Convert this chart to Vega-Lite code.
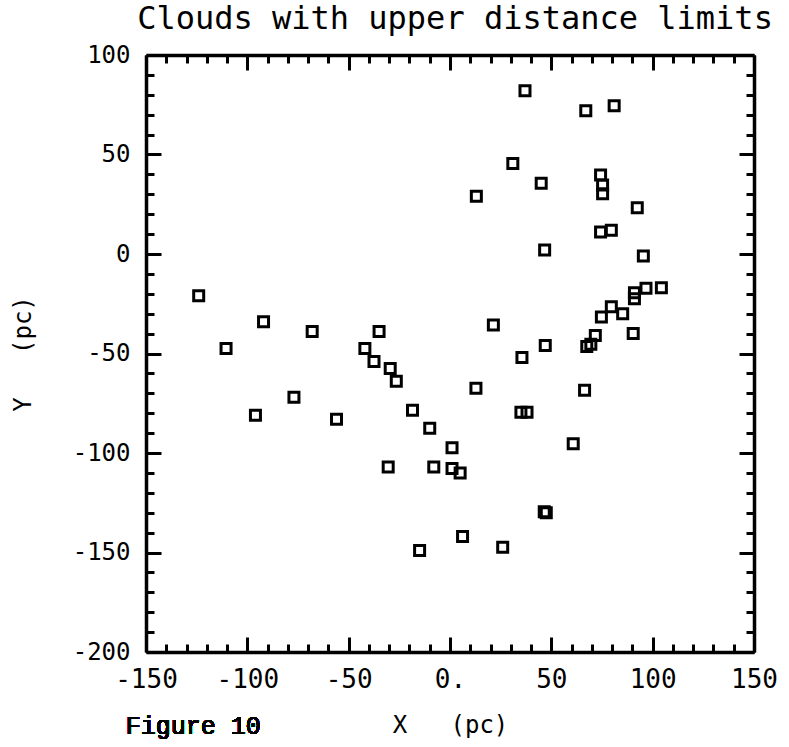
{
  "$schema": "https://vega.github.io/schema/vega-lite/v6.json",
  "width": 608,
  "height": 597,
  "autosize": {"type": "none"},
  "padding": {"left": 146, "top": 55, "right": 35, "bottom": 95},
  "background": "white",
  "title": {
    "text": "Clouds with upper distance limits",
    "font": "DejaVu Sans Mono",
    "fontSize": 32,
    "fontWeight": "normal",
    "color": "black",
    "anchor": "middle",
    "baseline": "bottom",
    "offset": 6,
    "dy": 31,
    "dx": 5
  },
  "data": {
    "values": [
      {"x": -124, "y": -21}, {"x": -92, "y": -34}, {"x": -68, "y": -39}, {"x": -35, "y": -39},
      {"x": -110.5, "y": -47.5}, {"x": -42, "y": -47.5}, {"x": -37.5, "y": -54}, {"x": -29.5, "y": -57.5},
      {"x": -26.5, "y": -64}, {"x": -77, "y": -72}, {"x": -96, "y": -81}, {"x": -56, "y": -83},
      {"x": -18.5, "y": -78.5}, {"x": -10, "y": -87.5}, {"x": -30.5, "y": -107}, {"x": -8, "y": -107},
      {"x": 1, "y": -97.3}, {"x": 1, "y": -107.8}, {"x": 5, "y": -110}, {"x": -15, "y": -149},
      {"x": 37, "y": 82}, {"x": 67, "y": 72}, {"x": 81, "y": 74.5}, {"x": 31, "y": 45.5},
      {"x": 45, "y": 35.5}, {"x": 13, "y": 29}, {"x": 74.3, "y": 39.7}, {"x": 75.3, "y": 34.7},
      {"x": 75.3, "y": 30.3}, {"x": 92.4, "y": 23.3}, {"x": 74.3, "y": 11.1}, {"x": 79.6, "y": 11.9},
      {"x": 46.7, "y": 2}, {"x": 95.4, "y": -1}, {"x": 96.7, "y": -17.2}, {"x": 104.3, "y": -17},
      {"x": 91, "y": -19.5}, {"x": 91, "y": -22.5}, {"x": 79.6, "y": -26.5}, {"x": 85.2, "y": -30},
      {"x": 74.7, "y": -31.7}, {"x": 21.4, "y": -35.7}, {"x": 47, "y": -46}, {"x": 71.7, "y": -41},
      {"x": 69.5, "y": -45.3}, {"x": 67.5, "y": -46.5}, {"x": 90.4, "y": -40}, {"x": 35.5, "y": -52},
      {"x": 12.8, "y": -67.5}, {"x": 66.4, "y": -68.5}, {"x": 35, "y": -79.5}, {"x": 38, "y": -79.5},
      {"x": 60.8, "y": -95.3}, {"x": 46.5, "y": -129.5}, {"x": 47.5, "y": -130}, {"x": 6.2, "y": -142},
      {"x": 26, "y": -147.4}
    ]
  },
  "resolve": {"axis": {"x": "independent", "y": "independent"}},
  "layer": [
    {
      "mark": {"type": "point", "shape": "square", "filled": false, "color": "black", "size": 100, "strokeWidth": 3, "opacity": 1},
      "encoding": {
        "x": {
          "field": "x", "type": "quantitative",
          "scale": {"domain": [-150, 150], "nice": false, "zero": false},
          "axis": {
            "orient": "bottom", "values": [-150, -100, -50, 0, 50, 100, 150],
            "tickSize": -15, "tickWidth": 3, "tickColor": "black",
            "domain": true, "domainWidth": 3.5, "domainColor": "black",
            "labelPadding": 29, "labelFont": "DejaVu Sans Mono", "labelFontSize": 26, "labelColor": "black",
            "labelExpr": "datum.value == 0 ? '0.' : '' + datum.value", "labelFlush": false, "labelOverlap": false, "labelDx": 3,
            "title": "X\u00a0\u00a0\u00a0(pc)", "titleFont": "DejaVu Sans Mono", "titleFontSize": 24, "titleFontWeight": "normal", "titleColor": "black", "titlePadding": 21,
            "grid": false
          }
        },
        "y": {
          "field": "y", "type": "quantitative",
          "scale": {"domain": [-200, 100], "nice": false, "zero": false},
          "axis": {
            "orient": "left", "values": [-200, -150, -100, -50, 0, 50, 100],
            "tickSize": -15, "tickWidth": 3, "tickColor": "black",
            "domain": true, "domainWidth": 3.5, "domainColor": "black",
            "labelPadding": 31, "labelFont": "DejaVu Sans Mono", "labelFontSize": 24, "labelColor": "black",
            "labelExpr": "'' + datum.value", "labelFlush": false, "labelOverlap": false,
            "title": "Y\u00a0\u00a0\u00a0(pc)", "titleFont": "DejaVu Sans Mono", "titleFontSize": 24, "titleFontWeight": "normal", "titleColor": "black", "titlePadding": 37,
            "grid": false
          }
        }
      }
    },
    {
      "mark": {"type": "point", "opacity": 0},
      "encoding": {
        "x": {
          "field": "x", "type": "quantitative",
          "scale": {"domain": [-150, 150], "nice": false, "zero": false},
          "axis": {
            "orient": "bottom", "values": [-140, -130, -120, -110, -90, -80, -70, -60, -40, -30, -20, -10, 10, 20, 30, 40, 60, 70, 80, 90, 110, 120, 130, 140],
            "tickSize": -8, "tickWidth": 3, "tickColor": "black", "domain": false, "labels": false, "title": null, "grid": false
          }
        },
        "y": {
          "field": "y", "type": "quantitative",
          "scale": {"domain": [-200, 100], "nice": false, "zero": false},
          "axis": {
            "orient": "left", "values": [-190, -180, -170, -160, -140, -130, -120, -110, -90, -80, -70, -60, -40, -30, -20, -10, 10, 20, 30, 40, 60, 70, 80, 90],
            "tickSize": -8, "tickWidth": 3, "tickColor": "black", "domain": false, "labels": false, "title": null, "grid": false
          }
        }
      }
    },
    {
      "mark": {"type": "point", "opacity": 0},
      "encoding": {
        "x": {
          "field": "x", "type": "quantitative",
          "scale": {"domain": [-150, 150], "nice": false, "zero": false},
          "axis": {
            "orient": "top", "values": [-150, -100, -50, 0, 50, 100, 150],
            "tickSize": -15, "tickWidth": 3, "tickColor": "black",
            "domain": true, "domainWidth": 3.5, "domainColor": "black", "labels": false, "title": null, "grid": false
          }
        },
        "y": {
          "field": "y", "type": "quantitative",
          "scale": {"domain": [-200, 100], "nice": false, "zero": false},
          "axis": {
            "orient": "right", "values": [-200, -150, -100, -50, 0, 50, 100],
            "tickSize": -15, "tickWidth": 3, "tickColor": "black",
            "domain": true, "domainWidth": 3.5, "domainColor": "black", "labels": false, "title": null, "grid": false
          }
        }
      }
    },
    {
      "mark": {"type": "point", "opacity": 0},
      "encoding": {
        "x": {
          "field": "x", "type": "quantitative",
          "scale": {"domain": [-150, 150], "nice": false, "zero": false},
          "axis": {
            "orient": "top", "values": [-140, -130, -120, -110, -90, -80, -70, -60, -40, -30, -20, -10, 10, 20, 30, 40, 60, 70, 80, 90, 110, 120, 130, 140],
            "tickSize": -8, "tickWidth": 3, "tickColor": "black", "domain": false, "labels": false, "title": null, "grid": false
          }
        },
        "y": {
          "field": "y", "type": "quantitative",
          "scale": {"domain": [-200, 100], "nice": false, "zero": false},
          "axis": {
            "orient": "right", "values": [-190, -180, -170, -160, -140, -130, -120, -110, -90, -80, -70, -60, -40, -30, -20, -10, 10, 20, 30, 40, 60, 70, 80, 90],
            "tickSize": -8, "tickWidth": 3, "tickColor": "black", "domain": false, "labels": false, "title": null, "grid": false
          }
        }
      }
    },
    {
      "mark": {"type": "text", "text": "Figure 10", "font": "Liberation Mono", "fontSize": 25, "color": "black", "align": "left", "baseline": "alphabetic"},
      "encoding": {
        "x": {"datum": -160, "type": "quantitative", "scale": {"domain": [-150, 150], "nice": false, "zero": false}, "axis": null},
        "y": {"datum": -241, "type": "quantitative", "scale": {"domain": [-200, 100], "nice": false, "zero": false}, "axis": null}
      }
    }
  ],
  "config": {"view": {"stroke": null}}
}
